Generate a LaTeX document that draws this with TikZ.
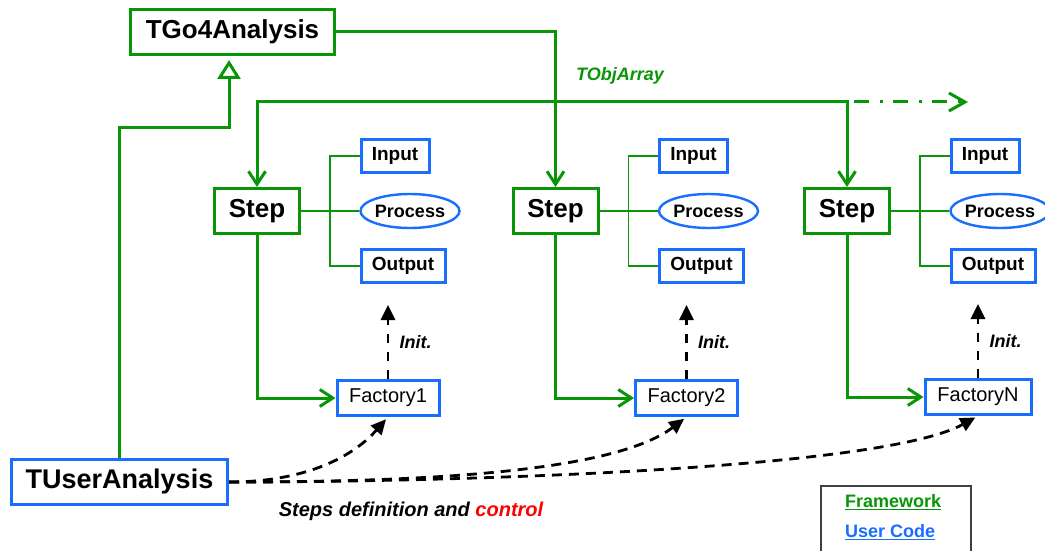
\documentclass[tikz,border=0pt]{standalone}
\usepackage{fontspec}
\setmainfont{Liberation Sans}
\usepackage{tikz}
\usetikzlibrary{arrows.meta,shapes.geometric}
\definecolor{fwgreen}{RGB}{8,150,8}
\definecolor{ucblue}{RGB}{25,110,255}
\definecolor{ctlred}{RGB}{255,0,0}

\begin{document}
\begin{tikzpicture}[x=1pt,y=-1pt,node distance=153pt,
    fw node/.style={rectangle,draw=fwgreen,line width=3pt,minimum width=85pt,minimum height=45pt,font=\fontsize{26}{30}\selectfont\bfseries},
    uc node/.style={rectangle,draw=ucblue,line width=3pt,minimum height=33pt,inner sep=2pt,font=\fontsize{19}{22}\selectfont\bfseries},
    uc proc/.style={ellipse,draw=ucblue,line width=2.4pt,minimum width=96pt,minimum height=34pt,inner sep=0pt,font=\fontsize{18}{21}\selectfont\bfseries},
    fac node/.style={rectangle,draw=ucblue,line width=3pt,minimum width=102pt,minimum height=35pt,font=\fontsize{20}{24}\selectfont},
    lbl/.style={font=\fontsize{18}{22}\selectfont\bfseries\itshape},
    garrow/.style={draw=fwgreen,line width=3pt,-{Straight Barb[length=13pt,width=17pt]}},
    tree/.style={draw=fwgreen,line width=1.4pt},
    darrow/.style={draw=black,line width=2.8pt,dash pattern=on 10pt off 7pt,-{Triangle[length=15pt,width=14pt]}}]
  \useasboundingbox (0,0) rectangle (1045,551);
  \clip (0,0) rectangle (1045,551);
  \fill[white] (0,0) rectangle (1045,551);

  \node[fw node, minimum width=204pt] (ana) at (232.5,32) {TGo4Analysis};
  \node[uc node, minimum width=216pt, minimum height=45pt, font=\fontsize{27}{30}\selectfont\bfseries] (usr) at (119.5,482) {TUserAnalysis};

  % first step
  \node[fw node] (step1) at (257,211) {Step};
  \node[uc node, minimum width=68pt] (in1) at ([shift={(138,-55)}]step1.center) {Input};
  \node[uc proc, right of=step1] (proc1) {Process};
  \node[uc node, minimum width=84pt] (out1) at ([shift={(146,55)}]step1.center) {Output};
  \node[fac node] (fac1) at ([shift={(131,187)}]step1.center) {Factory1};
  \coordinate (t1) at ([xshift=73pt]step1.center);
  \coordinate (ini1) at ([yshift=74pt]fac1.north);

  % second step
  \node[fw node] (step2) at (555.5,211) {Step};
  \node[uc node, minimum width=68pt] (in2) at ([shift={(138,-55)}]step2.center) {Input};
  \node[uc proc, right of=step2] (proc2) {Process};
  \node[uc node, minimum width=84pt] (out2) at ([shift={(146,55)}]step2.center) {Output};
  \node[fac node] (fac2) at ([shift={(131,187)}]step2.center) {Factory2};
  \coordinate (t2) at ([xshift=73pt]step2.center);
  \coordinate (ini2) at ([yshift=74pt]fac2.north);

  % last step
  \node[fw node] (step3) at (847,211) {Step};
  \node[uc node, minimum width=68pt] (in3) at ([shift={(138,-55)}]step3.center) {Input};
  \node[uc proc, right of=step3] (proc3) {Process};
  \node[uc node, minimum width=84pt] (out3) at ([shift={(146,55)}]step3.center) {Output};
  \node[fac node, minimum width=106pt] (fac3) at ([shift={(131,186)}]step3.center) {FactoryN};
  \coordinate (t3) at ([xshift=73pt]step3.center);
  \coordinate (ini3) at ([yshift=74pt]fac3.north);

  \coordinate (bus) at (555,102);
  \coordinate (inh) at (229,127);
  \coordinate (more1) at (854,102);
  \coordinate (more2) at (968,102);

  % framework links
  \draw[garrow] (ana) -| (step2);
  \draw[garrow] (bus) -| (step1);
  \draw[garrow] (bus) -| (step3);
  \draw[garrow, dash pattern=on 15pt off 11pt on 3pt off 10pt, -{Straight Barb[length=16pt,width=18pt]}] (more1) -- (more2);
  \draw[fwgreen, line width=3pt, -{Triangle[open,fill=white,length=19pt,width=23pt]}, shorten >=4pt]
    (usr) |- (inh) -- (inh |- ana.south);
  \draw[garrow] (step1) |- (fac1);
  \draw[garrow] (step2) |- (fac2);
  \draw[garrow] (step3) |- (fac3);
  \draw[tree] (step1) -- (proc1);
  \draw[tree] (in1) -| (t1) |- (out1);
  \draw[tree] (step2) -- (proc2);
  \draw[tree] (in2) -| (t2) |- (out2);
  \draw[tree] (step3) -- (proc3);
  \draw[tree] (in3) -| (t3) |- (out3);

  % init and control
  \draw[darrow, dash pattern=on 9pt off 9pt] (fac1) -- (ini1) node[lbl, midway, right=7pt] (lab1) {Init.};
  \draw[darrow, dash pattern=on 9pt off 9pt] (fac2) -- (ini2) node[lbl, midway, right=7pt] (lab2) {Init.};
  \draw[darrow, dash pattern=on 9pt off 9pt] (fac3) -- (ini3) node[lbl, midway, right=7pt] (lab3) {Init.};
  \draw[darrow, shorten >=3pt] (usr.east) .. controls (300,482) and (350,460) .. (fac1.south);
  \draw[darrow, shorten >=3pt] (usr.east) .. controls (400,482) and (610,475) .. (fac2.south);
  \draw[darrow, shorten >=3pt] (usr.east) .. controls (450,482) and (880,470) .. (fac3.south);

  \node[lbl, text=fwgreen] (arr) at (620,76) {TObjArray};
  \node[lbl, font=\fontsize{20}{24}\selectfont\bfseries\itshape] (ctl) at (411,511) {Steps definition and \textcolor{ctlred}{control}};

  % legend
  \draw[line width=1.5pt, draw=black!75] (821,486) rectangle (971,570);
  \node[anchor=west, inner sep=0pt, font=\fontsize{18}{21}\selectfont\bfseries, text=fwgreen] (fw) at (845,502) {\underline{Framework}};
  \node[anchor=west, inner sep=0pt, font=\fontsize{18}{21}\selectfont\bfseries, text=ucblue] (uc) at (845,532) {\underline{User Code}};
\end{tikzpicture}
\end{document}
